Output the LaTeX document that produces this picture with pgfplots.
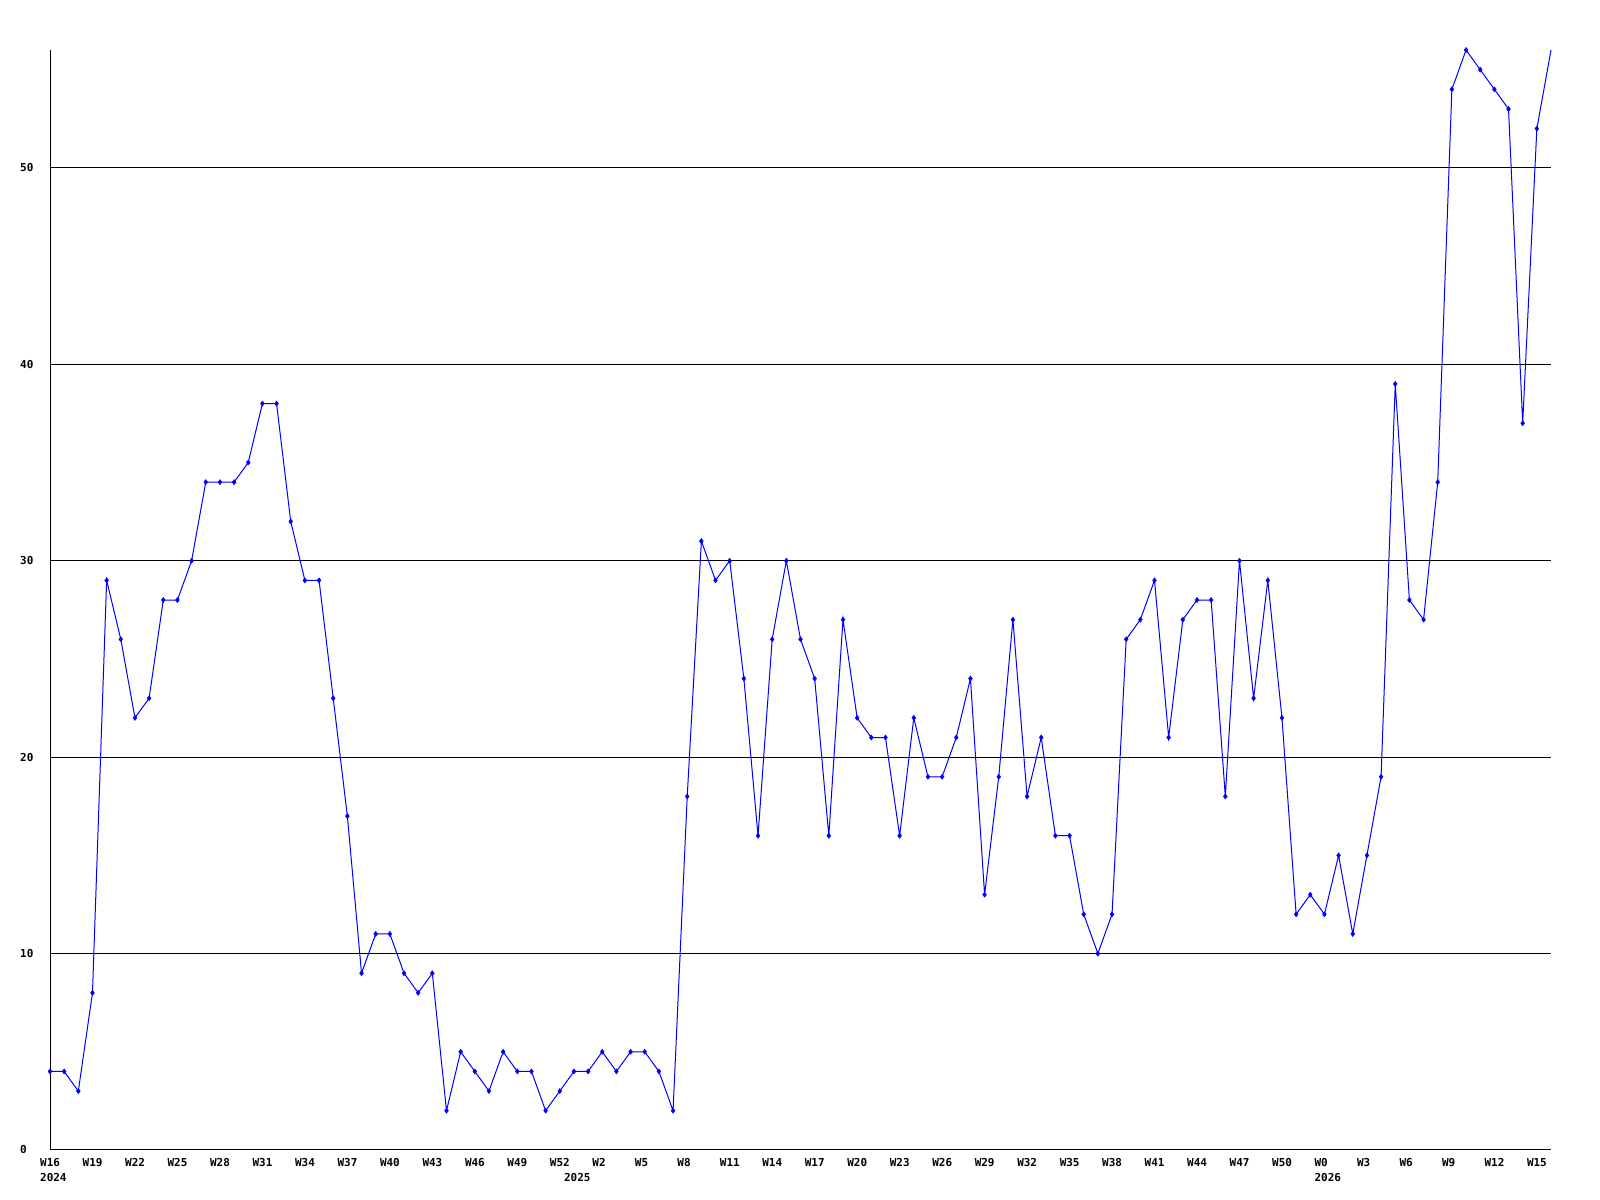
\documentclass[border=0pt]{standalone}
\usepackage{pgfplots}
\usepackage{pgfplotstable}
\pgfplotsset{compat=1.18}
\usepackage{fontspec}
\newfontfamily\chartfont{DejaVu Sans Mono}
\pgfplotstableread{
x y
0 4
1 4
2 3
3 8
4 29
5 26
6 22
7 23
8 28
9 28
10 30
11 34
12 34
13 34
14 35
15 38
16 38
17 32
18 29
19 29
20 23
21 17
22 9
23 11
24 11
25 9
26 8
27 9
28 2
29 5
30 4
31 3
32 5
33 4
34 4
35 2
36 3
37 4
38 4
39 5
40 4
41 5
42 5
43 4
44 2
45 18
46 31
47 29
48 30
49 24
50 16
51 26
52 30
53 26
54 24
55 16
56 27
57 22
58 21
59 21
60 16
61 22
62 19
63 19
64 21
65 24
66 13
67 19
68 27
69 18
70 21
71 16
72 16
73 12
74 10
75 12
76 26
77 27
78 29
79 21
80 27
81 28
82 28
83 18
84 30
85 23
86 29
87 22
88 12
89 13
90 12
91 15
92 11
93 15
94 19
95 39
96 28
97 27
98 34
99 54
100 56
101 55
102 54
103 53
104 37
105 52
106 56
}\datatable
\begin{document}
\begin{tikzpicture}
\path[use as bounding box] (0,0) rectangle (1600bp,1200bp);
\begin{axis}[
  at={(50bp,50bp)}, anchor=south west,
  scale only axis,
  width=1501bp, height=1100bp,
  xmin=0, xmax=106, ymin=0, ymax=56,
  axis x line*=bottom, axis y line*=left,
  axis line style={black, line width=1bp},
  xtick={0,3,...,105},
  xticklabels={W16,W19,W22,W25,W28,W31,W34,W37,W40,W43,W46,W49,W52,W2,W5,W8,W11,W14,W17,W20,W23,W26,W29,W32,W35,W38,W41,W44,W47,W50,W0,W3,W6,W9,W12,W15},
  ytick={0,10,20,30,40,50},
  yticklabels={0,10,20,30,40,50},
  major tick length=0pt,
  ymajorgrids,
  grid style={black, line width=1bp},
  ticklabel style={font=\chartfont\bfseries\fontsize{11}{12}\selectfont, inner sep=0pt},
  xticklabel style={anchor=north west, xshift=-10bp, yshift=-8bp},
  yticklabel style={anchor=west, xshift=-30bp},
  extra x ticks={0,37,90},
  extra x tick labels={2024,2025,2026},
  extra x tick style={grid=none, major tick length=0pt, xticklabel style={yshift=-15bp}},
  clip=false,
]
\addplot[color={rgb,255:red,0;green,0;blue,255}, line width=1bp, no markers] table[x=x,y=y] {\datatable};
\addplot[only marks, mark=diamond*, mark size=2.6bp, color={rgb,255:red,0;green,0;blue,255}, skip coords between index={106}{107}] table[x=x,y=y] {\datatable};
\end{axis}
\end{tikzpicture}
\end{document}
